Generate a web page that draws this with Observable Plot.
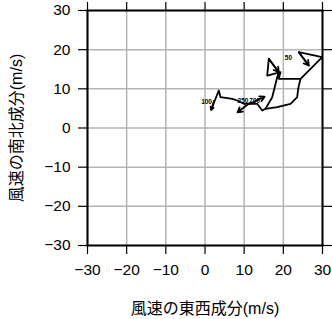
<!DOCTYPE html>
<html><head><meta charset="utf-8">
<script src="https://cdn.jsdelivr.net/npm/d3@7"></script>
<script src="https://cdn.jsdelivr.net/npm/@observablehq/plot@0.6"></script>
<style>body{margin:0;background:#fff} svg{display:block}</style>
</head><body><div id="chart"></div>
<script>
const ticks = [-30, -20, -10, 0, 10, 20, 30];
const xLabel = "風速の東西成分(m/s)";
const yLabel = "風速の南北成分(m/s)";

// hodograph path, segment A
const segAU = [1.58, 3.52, 3.96, 6.94, 8.22, 9.91, 13.33, 14.6, 15.45, 17.16, 18.43, 18.84, 16.29, 15.88, 19.27, 18.84, 24.38, 25.66, 26.94, 29.92, 23.95, 26.5];
const segAV = [4.65, 9.57, 7.86, 7.45, 7.02, 6.18, 6.18, 4.47, 4.9, 7.86, 12.97, 14.25, 17.67, 13.4, 14.25, 12.56, 12.56, 13.84, 15.11, 18.07, 19.35, 15.96];
// segment B
const segBU = [15.45, 18.43, 21.83, 23.54, 23.79, 24.38];
const segBV = [4.9, 5.31, 6.18, 7.86, 10.0, 12.56];

// arrows
const arrU1 = [2.3, 11.6, 11.6, 16.29, 23.95];
const arrV1 = [6.9, 6.5, 6.25, 17.67, 19.35];
const arrU2 = [1.58, 8.3, 15.2, 18.84, 26.5];
const arrV2 = [4.65, 4.0, 8.0, 14.25, 15.96];

// level labels
const lblText = ["100", "250", "700", "50"];
const lblU = [0.4, 9.7, 12.7, 21.3];
const lblV = [6.6, 7.0, 6.9, 18.0];

const path = [
  ...segAU.map((u, i) => ({u, v: segAV[i], seg: "A"})),
  ...segBU.map((u, i) => ({u, v: segBV[i], seg: "B"}))
];
const arrows = arrU1.map((u, i) => ({u1: u, v1: arrV1[i], u2: arrU2[i], v2: arrV2[i]}));
const labels = lblText.map((t, i) => ({t, u: lblU[i], v: lblV[i]}));

const chart = Plot.plot({
  width: 332, height: 319,
  marginLeft: 87, marginRight: 10, marginTop: 10, marginBottom: 74,
  style: {fontFamily: "'Liberation Sans', 'Noto Sans CJK JP', sans-serif", fontSize: "15px", background: "#fff"},
  x: {domain: [-30, 30]},
  y: {domain: [-30, 30]},
  marks: [
    Plot.gridX(ticks, {stroke: "#b4b4b4", strokeOpacity: 1, strokeWidth: 1.5}),
    Plot.gridY(ticks, {stroke: "#b4b4b4", strokeOpacity: 1, strokeWidth: 1.5}),
    Plot.line(path, {x: "u", y: "v", z: "seg", stroke: "black", strokeWidth: 1.8}),
    Plot.arrow(arrows, {x1: "u1", y1: "v1", x2: "u2", y2: "v2", stroke: "black", strokeWidth: 1.8, headLength: 7}),
    Plot.text(labels, {x: "u", y: "v", text: "t", fontSize: 6.5, fontWeight: "bold", fill: "black"}),
    Plot.frame({stroke: "black", strokeWidth: 2}),
    Plot.axisX(ticks, {anchor: "bottom", tickSize: 9, tickPadding: 9, fontSize: 15.5, label: null, strokeWidth: 1.2}),
    Plot.axisX(ticks, {anchor: "top", tickSize: 9, tickFormat: () => "", label: null, strokeWidth: 1.2}),
    Plot.axisY(ticks, {anchor: "left", tickSize: 9, tickPadding: 8, fontSize: 15.5, label: null, strokeWidth: 1.2}),
    Plot.axisY(ticks, {anchor: "right", tickSize: 9, tickFormat: () => "", label: null, strokeWidth: 1.2}),
    Plot.text([xLabel], {frameAnchor: "bottom", dy: 63, textAnchor: "middle", lineAnchor: "middle", fontSize: 16, fill: "black"}),
    Plot.text([yLabel], {frameAnchor: "left", dx: -71, rotate: -90, textAnchor: "middle", lineAnchor: "middle", fontSize: 16, fill: "black"})
  ]
});
document.getElementById("chart").appendChild(chart);
</script>
</body></html>
